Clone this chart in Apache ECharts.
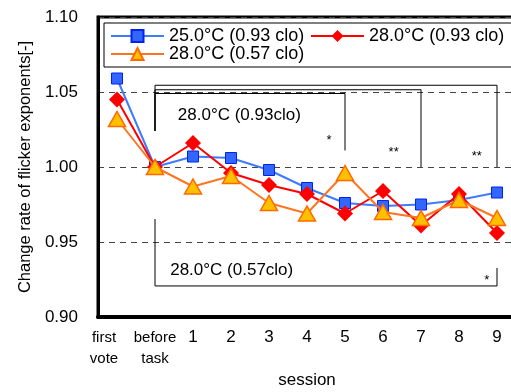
<!DOCTYPE html>
<html>
<head>
<meta charset="utf-8">
<script src="https://cdn.jsdelivr.net/npm/echarts@6/dist/echarts.min.js"></script>
<style>html,body{margin:0;padding:0;background:#fff;}#c{width:511px;height:392px;}</style>
</head>
<body>
<div id="c"></div>
<script>
const categories = ['first vote', 'before task', '1', '2', '3', '4', '5', '6', '7', '8', '9'];
const seriesNames = ['25.0°C (0.93 clo)', '28.0°C (0.93 clo)', '28.0°C (0.57 clo)'];
const s25_093 = [1.059, 1.000, 1.007, 1.006, 0.998, 0.986, 0.976, 0.974, 0.975, 0.978, 0.983];
const s28_093 = [1.045, 1.000, 1.016, 0.996, 0.988, 0.982, 0.969, 0.984, 0.961, 0.982, 0.956];
const s28_057 = [1.032, 1.000, 0.987, 0.994, 0.976, 0.969, 0.996, 0.970, 0.966, 0.978, 0.966];
const yTicks = [0.90, 0.95, 1.00, 1.05, 1.10];

// significance brackets
const bracketStart = ['before task', 'before task', 'before task', 'before task'];
const bracketEnd = ['5', '7', '9', '9'];
const bracketLevel = [1.049, 1.0515, 1.0545, 0.9207];
const bracketStartTip = [1.024, 1.024, 1.024, 0.9653];
const bracketEndTip = [1.011, 1.000, 1.000, 0.9327];
const bracketMark = ['*', '**', '**', '*'];
const bracketMarkLevel = [1.022, 1.014, 1.0113, 0.9287];
const bracketMarkShift = [-0.42, -0.72, -0.53, -0.27];
const groupLabels = ['28.0°C (0.93clo)', '28.0°C (0.57clo)'];
const groupLabelAt = ['before task', 'before task'];
const groupLabelLevel = [1.0347, 0.9313];
const groupLabelShift = [0.6, 0.4];

const FONT = '"Liberation Sans", Arial, sans-serif';
const chart = echarts.init(document.getElementById('c'), null, {renderer: 'canvas'});

function bracketRender(params, api) {
  const i = params.dataIndex;
  const s = categories.indexOf(bracketStart[i]);
  const e = categories.indexOf(bracketEnd[i]);
  const band = api.size([1, 0])[0];
  const pTopL = api.coord([s, bracketLevel[i]]);
  const pTipL = api.coord([s, bracketStartTip[i]]);
  const pTopR = api.coord([e, bracketLevel[i]]);
  const pTipR = api.coord([e, bracketEndTip[i]]);
  const pMark = api.coord([e, bracketMarkLevel[i]]);
  return {
    type: 'group',
    children: [
      {type: 'polyline', shape: {points: [pTipL, pTopL, pTopR, pTipR]},
       style: {stroke: '#000', lineWidth: 1, fill: null}},
      {type: 'text', x: pMark[0] + bracketMarkShift[i] * band, y: pMark[1],
       style: {text: bracketMark[i], fill: '#000', font: '13px ' + FONT, align: 'center', verticalAlign: 'top'}}
    ]
  };
}
function labelRender(params, api) {
  const i = params.dataIndex;
  const s = categories.indexOf(groupLabelAt[i]);
  const band = api.size([1, 0])[0];
  const p = api.coord([s, groupLabelLevel[i]]);
  return {type: 'text', x: p[0] + groupLabelShift[i] * band, y: p[1],
    style: {text: groupLabels[i], fill: '#000', font: '17px ' + FONT, align: 'left', verticalAlign: 'middle'}};
}

const option = {
  animation: false,
  grid: {left: 98, top: 17, width: 418, height: 300, show: true, borderColor: '#000', borderWidth: 3,
         backgroundColor: 'transparent', outerBoundsMode: 'none', containLabel: false},
  legend: {
    left: 104, top: 23, width: 402, orient: 'horizontal',
    padding: [4, 4, 4, 6], itemGap: 0, itemWidth: 53, itemHeight: 15,
    borderColor: '#000', borderWidth: 1,
    textStyle: {fontFamily: FONT, fontSize: 18, color: '#000', width: 141, lineHeight: 15},
    data: seriesNames
  },
  xAxis: {
    type: 'category', data: categories, boundaryGap: true,
    name: 'session', nameLocation: 'middle', nameGap: 55,
    nameTextStyle: {fontFamily: FONT, fontSize: 17, color: '#000'},
    axisLine: {show: true, lineStyle: {color: '#000', width: 4}},
    axisTick: {show: false},
    axisLabel: {
      interval: 0, margin: 10, color: '#000', fontFamily: FONT, hideOverlap: false,
      formatter: function (v) {
        if (v === 'first vote') return '{f|first}\n{f|vote}';
        if (v === 'before task') return '{t|before}\n{t|task}';
        return '{n|' + v + '}';
      },
      rich: {
        f: {fontFamily: FONT, fontSize: 15, lineHeight: 21, color: '#000', padding: [0, 26, 0, 0]},
        t: {fontFamily: FONT, fontSize: 15, lineHeight: 21, color: '#000'},
        n: {fontFamily: FONT, fontSize: 17, lineHeight: 21, color: '#000'}
      }
    },
    splitLine: {show: false}
  },
  yAxis: {
    type: 'value', min: 0.90, max: 1.10, interval: 0.05,
    name: 'Change rate of flicker exponents[-]', nameLocation: 'middle', nameGap: 62,
    nameTextStyle: {fontFamily: FONT, fontSize: 16.5, color: '#000'},
    axisLine: {show: true, lineStyle: {color: '#000', width: 3}},
    axisTick: {show: false},
    axisLabel: {margin: 20, color: '#000', fontFamily: FONT, fontSize: 17,
      formatter: function (v) { return v.toFixed(2); }},
    splitLine: {show: true, lineStyle: {color: '#444', width: 1, type: [6, 5]}}
  },
  series: [
    {name: seriesNames[0], type: 'line', data: s25_093, symbol: 'rect', symbolSize: 11,
     lineStyle: {color: '#3F7BFF', width: 2}, itemStyle: {color: '#3366FF', borderColor: '#0022EE', borderWidth: 1}, z: 3},
    {name: seriesNames[1], type: 'line', data: s28_093, symbol: 'diamond', symbolSize: 16,
     lineStyle: {color: '#FF0000', width: 2}, itemStyle: {color: '#FF0000', borderColor: '#FF0000', borderWidth: 0}, z: 4},
    {name: seriesNames[2], type: 'line', data: s28_057, symbol: 'triangle', symbolSize: [17, 15],
     lineStyle: {color: '#FF7420', width: 2}, itemStyle: {color: '#FFC000', borderColor: '#FF6A00', borderWidth: 1.5}, z: 5},
    {type: 'custom', renderItem: bracketRender, silent: true, z: 2,
     data: bracketEnd.map(function (e, i) { return [categories.indexOf(e), bracketLevel[i]]; })},
    {type: 'custom', renderItem: labelRender, silent: true, z: 2,
     data: groupLabels.map(function (t, i) { return [categories.indexOf(groupLabelAt[i]), groupLabelLevel[i]]; })}
  ]
};
chart.setOption(option);
</script>
</body>
</html>
